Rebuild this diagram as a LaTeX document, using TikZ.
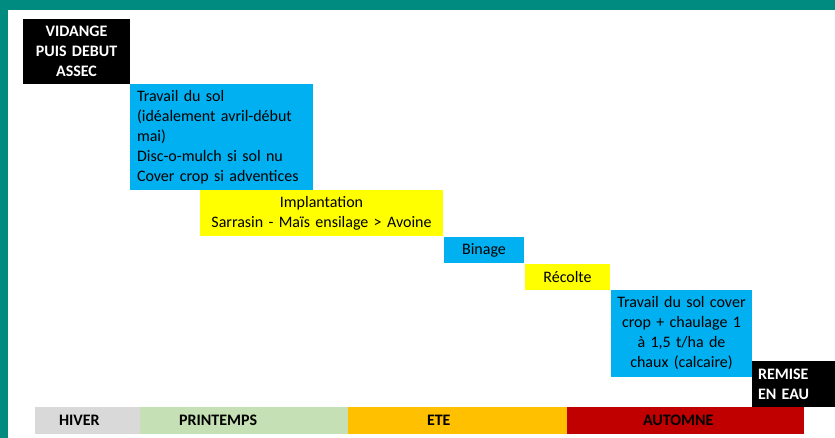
\documentclass[tikz,border=0pt]{standalone}
\usepackage{fontspec}
\setmainfont{Carlito}
\usepackage[usenames,dvipsnames,x11names,rgb]{xcolor}
\usepackage{tikz}
\usetikzlibrary{calc}

\definecolor{bordure}{HTML}{008B80}
\definecolor{bleu}{HTML}{00B0F0}
\definecolor{jaune}{HTML}{FFFF00}
\definecolor{hiver}{HTML}{D9D9D9}
\definecolor{printemps}{HTML}{C5E0B4}
\definecolor{ete}{HTML}{FFC000}
\definecolor{automne}{HTML}{C00000}

\begin{document}
\begin{tikzpicture}[x=1pt,y=-1pt,
        etape/.style={anchor=north west, inner sep=0pt, outer sep=0pt, align=center,
            font=\fontsize{16}{20}\selectfont, text=black},
        noir/.style={etape, fill=black, text=white, font=\bfseries\fontsize{16}{20}\selectfont},
        saison/.style={anchor=north west, inner sep=0pt, outer sep=0pt, align=left,
            minimum height=27pt, font=\bfseries\fontsize{16}{20}\selectfont, text=black}]
        \useasboundingbox (0,0) rectangle (835,438);
        \fill[white] (0,0) rectangle (835,438);

        \fill[bordure] (0,0) rectangle (835,10);
        \fill[bordure] (0,0) rectangle (8,438);

        \node[noir, text width=107pt, minimum height=65pt] (vidange) at (23,19)
            {VIDANGE\\PUIS DEBUT\\ASSEC};

        \node[etape, fill=bleu, align=left, inner xsep=7pt, text width=169pt, minimum height=106pt] (travail) at (130,84)
            {Travail du sol\\(idéalement avril-début\\mai)\\Disc-o-mulch si sol nu\\Cover crop si adventices};

        \node[etape, fill=jaune, text width=243pt, minimum height=46pt] (implantation) at (200,190)
            {Implantation\\Sarrasin - Maïs ensilage > Avoine};

        \node[etape, fill=bleu, text width=80pt, minimum height=26pt] (binage) at (444,237) {Binage};

        \node[etape, fill=jaune, text width=85pt, minimum height=26pt] (recolte) at (525,264) {Récolte};

        \node[etape, fill=bleu, text width=141pt, minimum height=87pt] (couvert) at (611,290)
            {Travail du sol cover\\crop + chaulage 1\\à 1,5 t/ha de\\chaux (calcaire)};

        \node[noir, align=left, inner xsep=6pt, text width=71pt, minimum height=46pt] (remise) at (752,361)
            {REMISE\\EN EAU};

        \node[saison, fill=hiver, text width=105pt] (hiv) at (35,407) {\hspace*{24pt}HIVER};
        \node[saison, fill=printemps, text width=208pt] (print) at (140,407) {\hspace*{39pt}PRINTEMPS};
        \node[saison, fill=ete, text width=219pt] (et) at (348,407) {\hspace*{79pt}ETE};
        \node[saison, fill=automne, text width=237pt] (aut) at (567,407) {\hspace*{76pt}AUTOMNE};
    \end{tikzpicture}
\end{document}
